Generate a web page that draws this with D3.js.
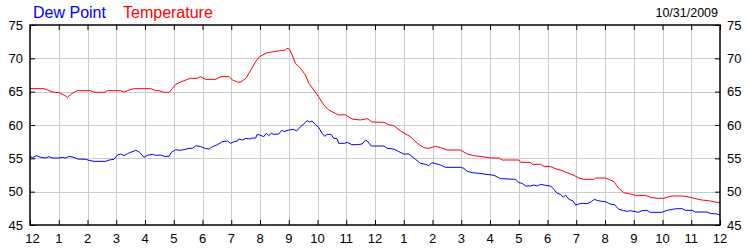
<!DOCTYPE html>
<html><head><meta charset="utf-8">
<script src="https://cdn.jsdelivr.net/npm/d3@7"></script>
<style>
html,body{margin:0;padding:0;background:#fff;}
svg{display:block;font-family:"Liberation Sans",Arial,sans-serif;}
</style></head>
<body><svg id="c" width="750" height="250"></svg>
<script>
const hourLabels = ["12","1","2","3","4","5","6","7","8","9","10","11","12","1","2","3","4","5","6","7","8","9","10","11","12"];
const yTicks = [45,50,55,60,65,70,75];
const seriesNames = ["Dew Point","Temperature"];
const dateLabel = "10/31/2009";

const tempHours = [0,0.49,0.66,0.84,1.01,1.18,1.3,1.47,1.65,2.11,2.23,2.6,2.69,3.16,3.27,3.39,3.62,4.2,4.37,4.49,4.66,4.84,5.07,5.24,5.48,5.59,5.82,5.92,6.11,6.46,6.64,6.93,7.04,7.22,7.31,7.51,7.68,7.85,7.98,
 8.25,8.48,8.71,8.88,8.94,9.02,9.12,9.23,9.41,9.58,9.7,9.87,10.04,10.22,10.39,10.57,10.74,10.97,11.2,11.49,11.73,11.9,12.31,12.48,12.65,12.89,13.23,13.47,13.7,13.87,14.1,14.28,14.51,14.97,15.21,15.44,15.73,16.02,
 16.31,16.43,17.01,17.07,17.41,17.47,17.76,17.88,18.11,18.34,18.51,18.69,18.92,19.09,19.26,19.61,19.67,20.02,20.19,20.31,20.48,20.65,20.88,21.06,21.41,21.58,21.81,22.04,22.22,22.33,22.68,22.85,23.03,23.2,23.37,23.6,23.78,24];
const tempValues = [65.45,65.45,65.15,64.9,64.85,64.5,64.15,64.75,65.15,65.15,64.9,64.9,65.15,65.15,64.9,65.15,65.45,65.45,65.15,65.15,64.9,64.9,66.1,66.45,66.85,67.0,67.0,67.25,66.85,66.85,67.25,67.25,66.75,66.45,66.4,67.0,68.25,69.5,70.25,
 70.85,71.0,71.15,71.25,71.5,71.4,70.5,69.25,68.5,67.5,66.25,65.25,64.25,63.0,62.25,61.85,61.5,61.55,60.9,60.75,60.95,60.45,60.4,60.05,59.9,59.1,58.25,57.25,56.6,56.5,56.8,56.6,56.25,56.25,55.65,55.4,55.25,55.05,
 55.05,54.75,54.75,54.4,54.4,54.1,54.1,53.8,53.75,53.35,53.15,52.85,52.45,52.05,51.85,51.85,52.05,52.05,51.75,51.5,50.5,49.85,49.65,49.45,49.45,49.15,49.0,49.0,49.25,49.35,49.35,49.25,49.1,48.9,48.75,48.65,48.5,48.3];

const dewHours = [0,0.08,0.23,0.37,0.55,0.66,0.78,1.01,1.13,1.24,1.36,1.53,1.65,1.94,2.05,2.23,2.63,2.75,2.92,3.04,3.16,3.27,3.39,3.5,3.68,3.79,3.97,4.08,4.26,4.37,4.55,4.66,4.84,4.92,5.07,5.19,5.36,5.53,5.65,5.77,5.94,6.11,6.23,6.35,6.52,6.69,6.87,6.98,7.1,7.22,7.27,7.39,7.51,7.62,7.74,7.85,
 7.9,7.99,8.13,8.22,8.3,8.4,8.48,8.65,8.77,8.83,9.0,9.17,9.27,9.41,9.52,9.64,9.73,9.81,9.93,10.04,10.16,10.25,10.33,10.47,10.57,10.68,10.74,10.94,11.03,11.2,11.38,11.55,11.67,11.75,11.87,12.31,12.42,12.65,12.83,13.0,13.18,13.29,13.41,13.58,13.76,13.87,13.97,14.16,14.28,14.45,14.97,15.09,15.21,15.38,15.61,15.96,
 16.14,16.37,16.89,17.01,17.12,17.24,17.41,17.53,17.64,17.76,17.93,18.11,18.22,18.34,18.45,18.55,18.63,18.71,18.8,18.89,18.98,19.09,19.21,19.38,19.52,19.63,19.75,19.9,20.02,20.13,20.21,20.33,20.48,20.65,20.77,20.88,21.06,21.17,21.29,21.46,21.58,21.98,22.16,22.33,22.5,22.68,22.79,23.03,23.14,23.55,23.66,23.89,24];
const dewValues = [55.35,55.1,55.4,55.15,55.05,55.25,55.05,55.05,55.15,55.05,55.3,55.15,54.9,54.85,54.7,54.55,54.55,54.75,54.85,55.5,55.65,55.4,55.7,55.9,56.2,56.0,55.15,55.45,55.6,55.45,55.5,55.3,55.3,55.9,56.3,56.2,56.3,56.5,56.5,56.9,56.75,56.45,56.4,56.75,57.05,57.5,57.6,57.25,57.5,57.6,57.9,57.75,58.0,57.9,58.05,58.05,
 58.6,58.5,58.25,58.75,58.4,58.75,58.6,58.65,59.25,59.0,59.25,59.35,59.1,59.75,60.15,60.65,60.45,60.6,60.05,59.65,58.75,58.3,58.6,58.6,58.0,57.95,57.25,57.25,57.4,57.05,57.05,57.15,57.75,57.5,56.85,56.85,56.5,56.4,56.0,55.65,55.65,55.25,54.85,54.25,54.1,53.9,54.35,54.15,54.0,53.65,53.65,53.5,53.05,52.85,52.75,52.55,
 52.45,51.95,51.85,51.35,51.25,50.85,50.85,51.0,50.85,51.1,50.95,50.85,50.35,49.75,49.6,49.15,49.5,49.0,48.75,48.6,48.0,48.15,48.25,48.2,48.5,48.85,48.65,48.55,48.5,48.25,48.1,48.05,47.35,47.15,47.05,47.15,47.0,46.9,47.15,47.2,46.9,46.9,47.2,47.35,47.45,47.45,47.2,47.2,46.95,46.95,46.75,46.65,46.5];

const L = 30, R = 720, T = 25, B = 225;
const svg = d3.select("#c");
const x = d3.scaleLinear().domain([0, 24]).range([L, R]);
const y = d3.scaleLinear().domain([45, 75]).range([B, T]);
const hourTicks = d3.range(0, 25);

// grid
const g = svg.append("g");
g.selectAll("line.vg").data(hourTicks.slice(1, -1)).join("line")
  .attr("x1", d => Math.round(x(d)) + 0.5).attr("x2", d => Math.round(x(d)) + 0.5)
  .attr("y1", T).attr("y2", B).attr("stroke", "#cccccc").attr("stroke-width", 1);
g.selectAll("line.hg").data(yTicks.slice(1, -1)).join("line")
  .attr("y1", d => Math.round(y(d)) + 0.5).attr("y2", d => Math.round(y(d)) + 0.5)
  .attr("x1", L).attr("x2", R).attr("stroke", "#cccccc").attr("stroke-width", 1);

// lines
const line = d3.line().x(d => x(d[0])).y(d => y(d[1]));
svg.append("path").datum(d3.zip(dewHours, dewValues))
  .attr("d", line).attr("fill", "none").attr("stroke", "#0000ff").attr("stroke-width", 1);
svg.append("path").datum(d3.zip(tempHours, tempValues))
  .attr("d", line).attr("fill", "none").attr("stroke", "#ff0000").attr("stroke-width", 1);

// axes (inward ticks)
const axB = d3.axisBottom(x).tickValues(hourTicks).tickSize(-5).tickFormat("");
const axT = d3.axisTop(x).tickValues(hourTicks).tickSize(-5).tickFormat("");
const axL = d3.axisLeft(y).tickValues(yTicks).tickSize(-5).tickFormat("");
const axR = d3.axisRight(y).tickValues(yTicks).tickSize(-5).tickFormat("");
function styleAx(sel){
  sel.select(".domain").remove();
  sel.selectAll(".tick line").attr("stroke", "#000");
}
svg.append("g").attr("transform", `translate(0,${B})`).call(axB).call(styleAx);
svg.append("g").attr("transform", `translate(0,${T})`).call(axT).call(styleAx);
svg.append("g").attr("transform", `translate(${L},0)`).call(axL).call(styleAx);
svg.append("g").attr("transform", `translate(${R},0)`).call(axR).call(styleAx);
svg.append("rect").attr("x", L).attr("y", T).attr("width", R - L).attr("height", B - T)
  .attr("fill", "none").attr("stroke", "#000").attr("stroke-width", 1.5);

// labels
svg.selectAll("text.xl").data(hourTicks).join("text")
  .attr("x", d => x(d) + (d === 0 ? 2.5 : 0)).attr("y", 243)
  .attr("text-anchor", "middle").attr("font-size", 13).attr("fill", "#000")
  .text(d => hourLabels[d]);
svg.selectAll("text.yl").data(yTicks).join("text")
  .attr("x", 23).attr("y", d => y(d)).attr("dy", "0.36em")
  .attr("text-anchor", "end").attr("font-size", 13).attr("fill", "#000").text(d => d);
svg.selectAll("text.yr").data(yTicks).join("text")
  .attr("x", 727).attr("y", d => y(d)).attr("dy", "0.36em")
  .attr("text-anchor", "start").attr("font-size", 13).attr("fill", "#000").text(d => d);

svg.append("text").attr("x", 33).attr("y", 18).attr("font-size", 16).attr("fill", "#0000ff").text(seriesNames[0]);
svg.append("text").attr("x", 123).attr("y", 18).attr("font-size", 16).attr("fill", "#ff0000").text(seriesNames[1]);
svg.append("text").attr("x", 718).attr("y", 17).attr("text-anchor", "end").attr("font-size", 12.5).attr("fill", "#000").text(dateLabel);
</script></body></html>
